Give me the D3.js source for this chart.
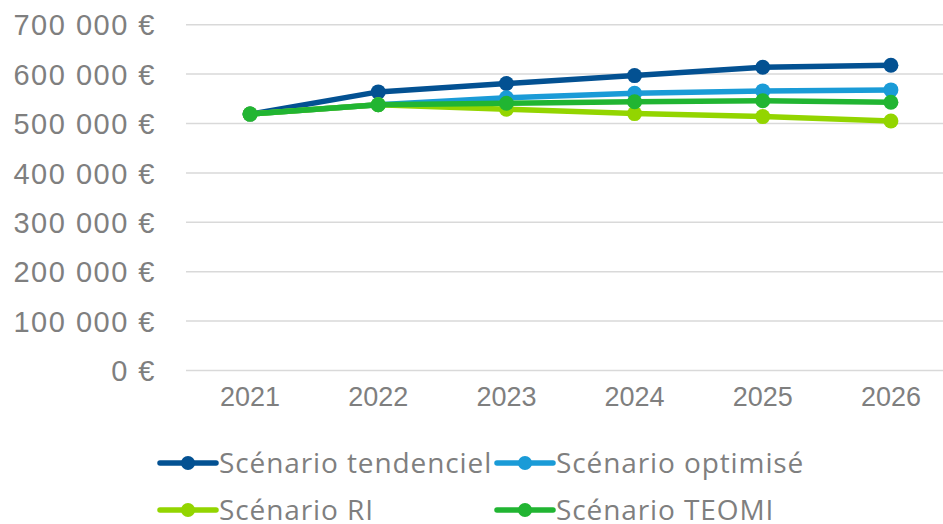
<!DOCTYPE html>
<html>
<head>
<meta charset="utf-8">
<script src="https://cdn.jsdelivr.net/npm/d3@7"></script>
<style>
  html, body { margin: 0; padding: 0; background: #fff; }
  svg { display: block; font-family: "Century Gothic", "Open Sans", sans-serif; }
</style>
</head>
<body>
<svg id="chart" width="943" height="524"></svg>
<script>
// data (values in euros)
const years = ['2021', '2022', '2023', '2024', '2025', '2026'];
const tendanciel = [519000, 564000, 581000, 597000, 614000, 618000];
const optimise = [519000, 538000, 552000, 561000, 566000, 568000];
const scenarioRI = [519000, 538000, 529000, 520000, 514000, 505000];
const teomi = [519000, 538000, 541000, 544000, 546000, 543000];
const seriesNames = ['Scénario tendenciel', 'Scénario optimisé', 'Scénario RI', 'Scénario TEOMI'];
const yTicks = [0, 100000, 200000, 300000, 400000, 500000, 600000, 700000];

const colors = ['#035192', '#1a9bd7', '#93d500', '#21b532'];
const series = [tendanciel, optimise, scenarioRI, teomi];

const svg = d3.select('#chart');
const textColor = '#7f7f7f';

// scales
const x = d3.scaleBand()
    .domain(years)
    .range([186, 955]);

const y = d3.scaleLinear()
    .domain([0, 700000])
    .range([370.5, 24.7]);

const fmt = v => d3.format(',')(v).replace(/,/g, ' ') + ' €';

// gridlines
svg.append('g')
    .selectAll('line')
    .data(yTicks)
    .join('line')
    .attr('x1', 186)
    .attr('x2', 955)
    .attr('y1', d => y(d))
    .attr('y2', d => y(d))
    .attr('stroke', '#d9d9d9')
    .attr('stroke-width', 1.5);

// y axis labels
const yAxis = d3.axisLeft(y).tickValues(yTicks).tickFormat(fmt).tickSize(0).tickPadding(0);
const gy = svg.append('g')
    .attr('transform', 'translate(156,0)')
    .call(yAxis);
gy.select('.domain').remove();
gy.selectAll('text')
    .attr('fill', textColor)
    .style('font-size', '29px')
    .style('letter-spacing', '1.5px')
    .attr('dy', '0.35em');

// x axis labels
const xAxis = d3.axisBottom(x).tickSize(0).tickPadding(0);
const gx = svg.append('g')
    .attr('transform', 'translate(0,397)')
    .call(xAxis);
gx.select('.domain').remove();
gx.selectAll('text')
    .attr('fill', textColor)
    .style('font-size', '27px')
    .attr('dy', '0.35em');

// lines + markers
const cx = d => x(d) + x.bandwidth() / 2;
const line = d3.line()
    .x((d, i) => cx(years[i]))
    .y(d => y(d));

series.forEach((vals, k) => {
    svg.append('path')
        .datum(vals)
        .attr('d', line)
        .attr('fill', 'none')
        .attr('stroke', colors[k])
        .attr('stroke-width', 5.5)
        .attr('stroke-linejoin', 'round');
    svg.append('g')
        .selectAll('circle')
        .data(vals)
        .join('circle')
        .attr('cx', (d, i) => cx(years[i]))
        .attr('cy', d => y(d))
        .attr('r', 7.5)
        .attr('fill', colors[k]);
});

// legend
const legendPos = [[160, 463], [497, 463], [160, 510], [497, 510]];
seriesNames.forEach((name, k) => {
    const [lx, ly] = legendPos[k];
    const g = svg.append('g').attr('transform', `translate(${lx},${ly})`);
    g.append('line')
        .attr('x1', 0).attr('x2', 56)
        .attr('y1', 0).attr('y2', 0)
        .attr('stroke', colors[k])
        .attr('stroke-width', 5.5)
        .attr('stroke-linecap', 'round');
    g.append('circle')
        .attr('cx', 28).attr('cy', 0).attr('r', 7)
        .attr('fill', colors[k]);
    g.append('text')
        .attr('x', 59)
        .attr('y', 0)
        .attr('dy', '0.35em')
        .attr('fill', textColor)
        .style('font-size', '28px')
        .style('letter-spacing', '0.9px')
        .text(name);
});
</script>
</body>
</html>
